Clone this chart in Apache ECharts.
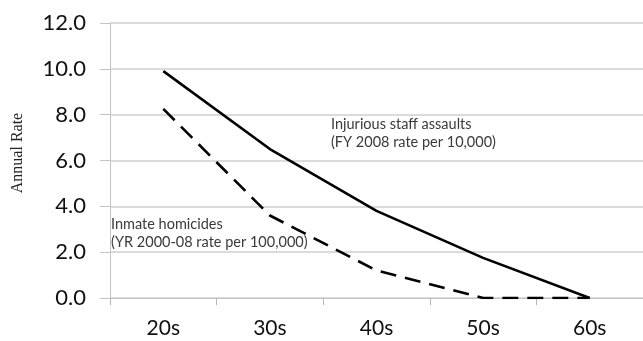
<!DOCTYPE html>
<html><head><meta charset="utf-8">
<script src="https://cdn.jsdelivr.net/npm/echarts@6/dist/echarts.min.js"></script>
<style>html,body{margin:0;padding:0;background:#fff}#c{width:643px;height:341px}</style>
</head><body><div id="c"></div>
<script>
var categories = ['20s', '30s', '40s', '50s', '60s'];
var staffAssaults = [9.9, 6.5, 3.8, 1.75, 0];
var inmateHomicides = [8.25, 3.6, 1.2, 0, 0];
var yTicks = [0, 2, 4, 6, 8, 10, 12];

var chart = echarts.init(document.getElementById('c'), null, {renderer: 'canvas'});
chart.setOption({
  animation: false,
  backgroundColor: '#fff',
  grid: {left: 110, right: -2, top: 23, bottom: 43, containLabel: false},
  xAxis: {
    type: 'category', data: categories, boundaryGap: true,
    axisLine: {show: true, lineStyle: {color: '#c4c4c4', width: 1}},
    axisTick: {show: true, length: 7, alignWithLabel: false, lineStyle: {color: '#b8b8b8'}},
    axisLabel: {color: '#111', fontSize: 21, fontFamily: 'Lato', margin: 20}
  },
  yAxis: {
    type: 'value', min: yTicks[0], max: yTicks[yTicks.length - 1], interval: 2,
    axisLine: {show: true, lineStyle: {color: '#c4c4c4', width: 1}},
    axisTick: {show: true, inside: false, length: 10, lineStyle: {color: '#c4c4c4'}},
    axisLabel: {color: '#111', fontSize: 22, fontFamily: 'Lato', margin: 24,
      formatter: function (v) { return v.toFixed(1); }},
    splitLine: {show: true, lineStyle: {color: '#cfcfcf', width: 1.5}}
  },
  series: [
    {type: 'line', name: 'Injurious staff assaults', data: staffAssaults, symbol: 'none',
      lineStyle: {color: '#000', width: 2.6, type: 'solid'}},
    {type: 'line', name: 'Inmate homicides', data: inmateHomicides, symbol: 'none',
      lineStyle: {color: '#000', width: 2.6, type: [16, 9]}}
  ],
  graphic: [
    {type: 'text', x: 18, y: 153, rotation: Math.PI / 2,
      style: {text: 'Annual Rate', font: '16px "Liberation Serif"', fill: '#222',
        align: 'center', verticalAlign: 'middle'}},
    {type: 'text', left: 331, top: 115, style: {text: 'Injurious staff assaults\n(FY 2008 rate per 10,000)',
      font: '14.5px Lato', fill: '#3a3a3a', lineHeight: 18}},
    {type: 'text', left: 111, top: 215, style: {text: 'Inmate homicides\n(YR 2000-08 rate per 100,000)',
      font: '14.5px Lato', fill: '#3a3a3a', lineHeight: 18}}
  ]
});
</script></body></html>
